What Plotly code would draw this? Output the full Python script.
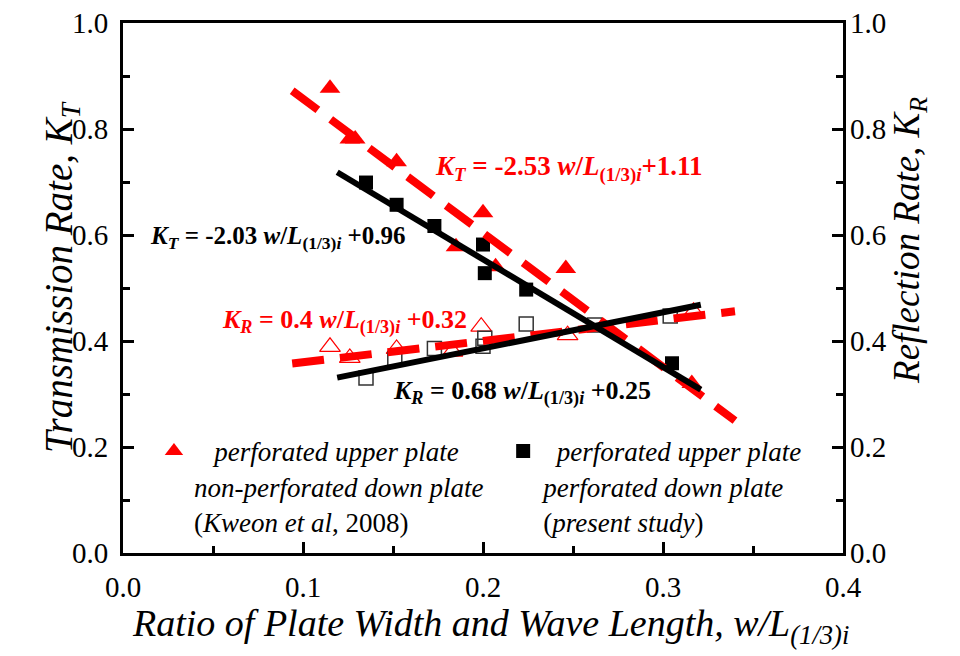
import plotly.graph_objects as go

# ---- data --------------------------------------------------------------
# Kweon et al. (2008): perforated upper plate, non-perforated down plate
kweon_kt_x = [0.115, 0.126, 0.129, 0.152, 0.185, 0.200, 0.207, 0.246, 0.316]
kweon_kt_y = [0.877, 0.781, 0.781, 0.738, 0.578, 0.642, 0.540, 0.537, 0.320]
kweon_kr_x = [0.115, 0.126, 0.152, 0.183, 0.199, 0.247, 0.317]
kweon_kr_y = [0.389, 0.368, 0.385, 0.380, 0.427, 0.411, 0.455]

# present study: perforated upper plate, perforated down plate
study_kt_x = [0.135, 0.152, 0.173, 0.200, 0.201, 0.224, 0.305]
study_kt_y = [0.699, 0.657, 0.617, 0.582, 0.528, 0.497, 0.358]
study_kr_x = [0.135, 0.151, 0.173, 0.200, 0.201, 0.224, 0.262, 0.304]
study_kr_y = [0.330, 0.367, 0.386, 0.390, 0.405, 0.432, 0.430, 0.447]

# linear fits: (slope, intercept, x_start, x_end)
fit_kweon_kt = (-2.53, 1.11, 0.094, 0.340)
fit_kweon_kr = (0.40, 0.32, 0.094, 0.340)
fit_study_kt = (-2.03, 0.96, 0.119, 0.321)
fit_study_kr = (0.68, 0.25, 0.119, 0.321)

x_ticks = [0.0, 0.1, 0.2, 0.3, 0.4]
y_ticks = [0.0, 0.2, 0.4, 0.6, 0.8, 1.0]

RED = "#ff0000"
FONT = "Liberation Serif"


def fit_line(fit):
    slope, intercept, x0, x1 = fit
    xs = [x0, x1]
    return xs, [slope * x + intercept for x in xs]


fig = go.Figure()

# markers
fig.add_trace(go.Scatter(
    x=kweon_kt_x, y=kweon_kt_y, mode="markers",
    marker=dict(symbol="triangle-up", size=18, color=RED),
    name="&nbsp;&nbsp;&nbsp;<i>perforated upper plate</i><br>"
         "<i>non-perforated down plate</i><br>"
         "(<i>Kweon et al</i>, 2008)",
    legend="legend", showlegend=True))
fig.add_trace(go.Scatter(
    x=kweon_kr_x, y=kweon_kr_y, mode="markers",
    marker=dict(symbol="triangle-up-open", size=18, color=RED,
                line=dict(width=1.2, color=RED)),
    showlegend=False))
fig.add_trace(go.Scatter(
    x=study_kt_x, y=study_kt_y, mode="markers",
    marker=dict(symbol="square", size=14, color="black"),
    name="&nbsp;&nbsp;<i>perforated upper plate</i><br>"
         "<i>perforated down plate</i><br>"
         "(<i>present study</i>)",
    legend="legend2", showlegend=True))
fig.add_trace(go.Scatter(
    x=study_kr_x, y=study_kr_y, mode="markers",
    marker=dict(symbol="square-open", size=14, color="#333333",
                line=dict(width=1.5, color="#333333")),
    showlegend=False))

# fitted lines
for fit in (fit_kweon_kt, fit_kweon_kr):
    xs, ys = fit_line(fit)
    fig.add_trace(go.Scatter(x=xs, y=ys, mode="lines", showlegend=False,
                             line=dict(color=RED, width=8, dash="32px,16px")))
for fit in (fit_study_kt, fit_study_kr):
    xs, ys = fit_line(fit)
    fig.add_trace(go.Scatter(x=xs, y=ys, mode="lines", showlegend=False,
                             line=dict(color="black", width=6)))

# invisible trace that carries the right-hand axis
fig.add_trace(go.Scatter(x=[None], y=[None], yaxis="y2", showlegend=False))


def equation(sym, fit, gap=True):
    slope, intercept = fit[0], fit[1]
    sep = " " if gap else ""
    return (f"<b><i>K</i><sub><i>{sym}</i></sub> = {slope:g} "
            f"<i>w</i>/<i>L</i><sub>(1/3)<i>i</i></sub>{sep}+{intercept:.2f}</b>")


def eq_label(text, x, y, color, size=26):
    fig.add_annotation(x=x, y=y, xref="x", yref="y", text=text,
                       showarrow=False, xanchor="left", yanchor="middle",
                       font=dict(family=FONT, size=size, color=color))


eq_label(equation("T", fit_study_kt), 0.014, 0.596, "black", 25)
eq_label(equation("T", fit_kweon_kt, gap=False), 0.172, 0.726, RED, 27)
eq_label(equation("R", fit_kweon_kr), 0.054, 0.436, RED, 26)
eq_label(equation("R", fit_study_kr), 0.149, 0.302, "black", 26)

# axis titles
fig.add_annotation(x=-0.122, y=0.52, xref="paper", yref="paper",
                   text="<i>Transmission Rate, K<sub>T</sub></i>",
                   textangle=-90, showarrow=False,
                   font=dict(family=FONT, size=39, color="black"))
fig.add_annotation(x=1.128, y=0.59, xref="paper", yref="paper",
                   text="<i>Reflection Rate, K<sub>R</sub></i>",
                   textangle=-90, showarrow=False,
                   font=dict(family=FONT, size=37, color="black"))
fig.add_annotation(x=0.51, y=-0.138, xref="paper", yref="paper",
                   text="<i>Ratio of Plate Width and Wave Length, w/L</i>"
                        "<sub><i>(1/3)i</i></sub>",
                   showarrow=False, yanchor="middle",
                   font=dict(family=FONT, size=38, color="black"))

axis_common = dict(
    showgrid=False, zeroline=False, automargin=False,
    ticks="inside", ticklen=11, tickwidth=2.5, tickcolor="black",
    ticklabelstandoff=6,
    tickfont=dict(family=FONT, size=29, color="black"),
    minor=dict(ticks="inside", ticklen=7, tickwidth=2.5, tickcolor="black"),
)

legend_common = dict(
    orientation="v", xanchor="left", yanchor="top", valign="top",
    bgcolor="rgba(0,0,0,0)", itemsizing="trace",
    font=dict(family=FONT, size=27, color="black"),
)

fig.update_layout(
    width=960, height=656,
    margin=dict(l=123, r=117, t=23, b=103),
    paper_bgcolor="white", plot_bgcolor="white",
    font=dict(family=FONT, color="black"),
    xaxis=dict(range=[0, 0.4], tickvals=x_ticks, tickformat=".1f",
               minor_dtick=0.05, showline=True, linewidth=3,
               linecolor="black", mirror=True, **axis_common),
    yaxis=dict(range=[0, 1], tickvals=y_ticks, tickformat=".1f",
               minor_dtick=0.1, showline=True, linewidth=3,
               linecolor="black", mirror=True, **axis_common),
    yaxis2=dict(range=[0, 1], tickvals=y_ticks, tickformat=".1f",
                minor_dtick=0.1, overlaying="y", side="right",
                showline=False, **axis_common),
    legend=dict(x=0.043, y=0.238, **legend_common),
    legend2=dict(x=0.528, y=0.238, **legend_common),
)

fig.write_html("out.html")
